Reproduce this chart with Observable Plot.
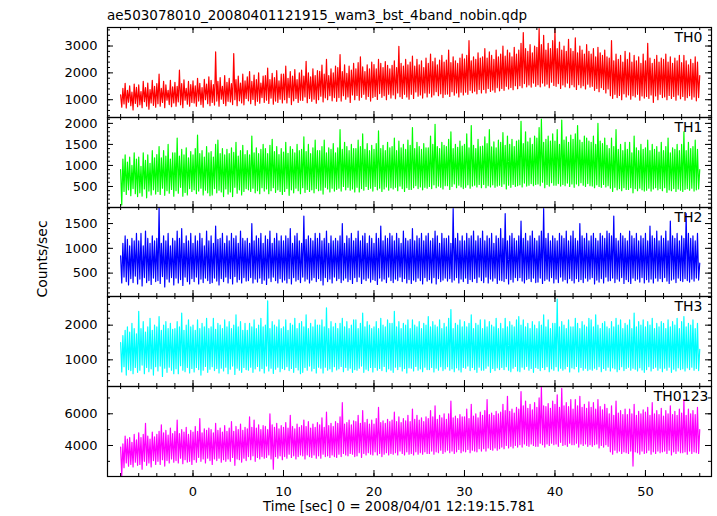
<!DOCTYPE html>
<html>
<head>
<meta charset="utf-8">
<script src="https://cdn.jsdelivr.net/npm/d3@7"></script>
<script src="https://cdn.jsdelivr.net/npm/@observablehq/plot@0.6"></script>
<style>
  html, body { margin: 0; padding: 0; background: #fff; }
  #wrap { position: relative; width: 717px; height: 516px; background: #fff; overflow: hidden; }
  #wrap svg { position: absolute; left: 0; }
</style>
</head>
<body>
<div id="wrap"></div>
<script>
// Light-curve bins: start time and bin width (seconds)
const binStart = -8, binWidth = 0.125;

// Counts/sec per bin, 16 bins per 2 s
const th0 = [
  1180, 720, 1420, 840, 1610, 690, 1350, 910, 1520, 780, 1280, 620, 1580, 860, 1460, 740,
  1550, 810, 1300, 700, 1680, 930, 1450, 760, 1620, 650, 1380, 880, 1720, 790, 1500, 720,
  1600, 850, 1950, 760, 1420, 900, 1680, 700, 1550, 980, 1350, 820, 1720, 740, 1480, 880,
  1650, 760, 1500, 920, 2100, 810, 1600, 700, 1740, 980, 1420, 830, 1680, 760, 1560, 900,
  1700, 880, 1520, 760, 1800, 950, 1610, 820, 1450, 720, 1760, 1000, 1580, 850, 1850, 780,
  1720, 900, 1560, 800, 2780, 950, 1680, 760, 1820, 1020, 1500, 860, 1900, 780, 1650, 940,
  1800, 920, 1600, 820, 2720, 1000, 1750, 780, 1880, 960, 1620, 880, 1950, 810, 1700, 1050,
  1850, 960, 2050, 850, 1680, 1010, 1920, 790, 1750, 940, 2000, 870, 1620, 1080, 1880, 900,
  1900, 980, 2180, 860, 1750, 1060, 1980, 830, 1820, 950, 2080, 900, 1700, 1020, 1950, 880,
  1950, 1000, 2250, 880, 1800, 1080, 2050, 820, 1880, 960, 2120, 1050, 1750, 900, 2000, 980,
  2100, 970, 1880, 1100, 2430, 890, 2000, 1050, 1850, 940, 2150, 1020, 1900, 870, 2080, 1000,
  2060, 1130, 2290, 920, 1950, 1070, 2500, 1000, 1900, 1150, 2150, 960, 2000, 1080, 2250, 940,
  2200, 1080, 2680, 950, 2050, 1150, 2300, 1020, 1980, 1100, 2250, 900, 2100, 1180, 2350, 1000,
  2150, 1160, 2380, 980, 2600, 1090, 2220, 1200, 2050, 1020, 2300, 1120, 2150, 950, 2400, 1080,
  2310, 1120, 2150, 1010, 2500, 1230, 2350, 1090, 2200, 1150, 2420, 1000, 2280, 1200, 2150, 1060,
  2280, 1180, 2450, 1040, 2200, 1250, 2990, 1110, 2350, 1050, 2250, 1200, 2500, 1100, 2300, 1020,
  2400, 1200, 2620, 1050, 2250, 1290, 2500, 1130, 2300, 1180, 2450, 1060, 2200, 1250, 2550, 1100,
  2350, 1240, 2700, 1100, 2420, 1180, 2550, 1300, 2300, 1150, 2480, 1220, 2650, 1080, 2400, 1200,
  2480, 1210, 2850, 1120, 2380, 1300, 2600, 1170, 2450, 1250, 2350, 1100, 2550, 1280, 2700, 1180,
  2520, 1280, 2650, 1200, 3200, 1350, 2450, 1260, 2600, 1320, 2500, 1220, 2750, 1380, 2550, 1250,
  2600, 1380, 2900, 1250, 2550, 1420, 2780, 1310, 2650, 1360, 2500, 1280, 2850, 1450, 2600, 1330,
  2700, 1420, 3000, 1350, 2620, 1500, 2850, 1400, 2750, 1460, 2600, 1370, 2950, 1520, 2700, 1410,
  2850, 1520, 3100, 1450, 3500, 1600, 2900, 1480, 2800, 1550, 3050, 1470, 2750, 1620, 3000, 1500,
  2950, 1560, 3650, 1480, 3050, 1620, 3400, 1510, 2850, 1580, 3100, 1450, 2900, 1650, 3200, 1530,
  3600, 1500, 2900, 1600, 3150, 1420, 2850, 1550, 3000, 1480, 2800, 1620, 3250, 1450, 2900, 1560,
  2800, 1480, 3300, 1380, 2750, 1560, 3000, 1450, 2850, 1520, 2700, 1400, 3050, 1580, 2800, 1470,
  2700, 1500, 2900, 1350, 2600, 1420, 2950, 1300, 2750, 1450, 2650, 1380, 2850, 1250, 2600, 1400,
  2550, 1150, 3200, 1050, 2450, 1200, 2700, 1080, 2500, 1160, 2650, 1000, 2400, 1220, 2800, 1100,
  2500, 1180, 2750, 1020, 2400, 1150, 2650, 1100, 2450, 1200, 2600, 980, 2350, 1140, 2700, 1060,
  2450, 1120, 3100, 1050, 2550, 1180, 2350, 900, 2500, 1140, 2650, 1000, 2400, 1200, 2550, 1080,
  2500, 1100, 2700, 1000, 2400, 1160, 2600, 1050, 2350, 1120, 2550, 980, 2450, 1180, 2650, 1040,
  2380, 1120, 2650, 980, 2450, 1080, 2300, 1150, 2500, 1020, 2350, 1100, 2600, 960, 2400, 1080,
  1900
];
const th1 = [
  900, 60, 1150, 380, 1250, 310, 1080, 420, 1200, 280, 1000, 450, 1300, 330, 1150, 260,
  1200, 350, 980, 270, 1300, 440, 1120, 230, 1250, 390, 1050, 300, 1350, 420, 1180, 320,
  1260, 380, 1450, 310, 1180, 460, 1350, 290, 1220, 400, 1500, 340, 1150, 430, 1300, 270,
  1300, 400, 1650, 340, 1220, 480, 1380, 270, 1250, 360, 1420, 300, 1180, 450, 1330, 380,
  1250, 420, 1400, 330, 1720, 390, 1280, 460, 1350, 300, 1200, 410, 1450, 350, 1300, 280,
  1330, 300, 1200, 450, 1500, 350, 1600, 410, 1280, 370, 1400, 260, 1250, 440, 1380, 320,
  1280, 370, 1420, 260, 1310, 480, 1550, 340, 1220, 420, 1350, 300, 1480, 380, 1260, 450,
  1350, 420, 1250, 380, 1700, 460, 1300, 350, 1420, 400, 1280, 330, 1380, 470, 1500, 390,
  1400, 440, 1280, 330, 1480, 400, 1620, 470, 1330, 360, 1450, 420, 1260, 380, 1400, 310,
  1320, 380, 1550, 450, 1290, 290, 1450, 420, 1380, 350, 1300, 460, 1500, 400, 1350, 330,
  1380, 470, 1680, 360, 1330, 430, 1500, 380, 1280, 420, 1420, 350, 1600, 450, 1350, 400,
  1350, 410, 1450, 320, 1600, 480, 1300, 440, 1420, 370, 1380, 460, 1520, 390, 1300, 430,
  1420, 460, 1850, 390, 1380, 500, 1550, 420, 1450, 480, 1350, 410, 1500, 440, 1400, 370,
  1400, 480, 1600, 370, 1450, 450, 1750, 410, 1380, 500, 1520, 430, 1350, 460, 1480, 390,
  1380, 500, 1520, 420, 1820, 460, 1400, 380, 1480, 440, 1350, 490, 1550, 410, 1420, 470,
  1450, 440, 1650, 480, 1350, 400, 1580, 510, 1420, 450, 1500, 380, 1380, 470, 1600, 430,
  1480, 430, 1900, 470, 1400, 520, 1550, 450, 1450, 490, 1380, 420, 1520, 480, 1420, 460,
  1420, 500, 1700, 450, 1500, 540, 1980, 470, 1450, 510, 1400, 480, 1550, 440, 1480, 520,
  1450, 520, 1620, 430, 1800, 500, 1400, 560, 1500, 470, 1430, 530, 1580, 490, 1460, 450,
  1500, 480, 1750, 540, 1420, 460, 1950, 510, 1480, 530, 1400, 490, 1620, 550, 1450, 470,
  1460, 550, 1680, 470, 1520, 520, 1850, 490, 1440, 540, 1560, 480, 1420, 510, 1600, 530,
  1550, 500, 1780, 560, 1480, 440, 1700, 530, 1500, 480, 1620, 550, 1450, 500, 1580, 520,
  1600, 540, 2050, 490, 1520, 580, 1800, 510, 1560, 530, 1650, 570, 1500, 520, 1700, 550,
  1650, 560, 1900, 520, 2100, 600, 1550, 470, 1620, 550, 1700, 510, 1580, 590, 1750, 530,
  1580, 530, 1850, 570, 1500, 510, 2080, 550, 1600, 520, 1680, 580, 1550, 500, 1720, 560,
  1620, 480, 1750, 560, 1950, 520, 1600, 590, 1550, 530, 1700, 500, 1650, 570, 1580, 520,
  1550, 510, 1700, 470, 1500, 540, 2000, 500, 1580, 480, 1520, 550, 1650, 490, 1480, 520,
  1400, 460, 1650, 380, 1450, 480, 1850, 420, 1380, 450, 1500, 400, 1350, 470, 1550, 430,
  1380, 430, 1550, 470, 1300, 350, 1700, 450, 1420, 400, 1350, 460, 1500, 420, 1380, 390,
  1420, 410, 1600, 460, 1350, 390, 1500, 440, 1380, 470, 1450, 420, 1320, 450, 1550, 400,
  1350, 470, 1450, 360, 1650, 420, 1300, 400, 1420, 450, 1380, 380, 1500, 440, 1350, 410,
  1500, 380, 1800, 430, 1350, 450, 1550, 410, 1400, 460, 1450, 390, 1600, 420, 1380, 440,
  900
];
const th2 = [
  850, 300, 1100, 420, 1250, 330, 1180, 260, 1050, 390, 1200, 310, 1150, 440, 1300, 280,
  1150, 380, 1300, 240, 1050, 410, 1350, 310, 1200, 350, 1100, 270, 1250, 400, 1150, 330,
  1200, 350, 1820, 290, 1100, 430, 1250, 220, 1150, 380, 1300, 320, 1050, 410, 1200, 260,
  1150, 400, 1350, 300, 1200, 370, 1400, 250, 1100, 420, 1250, 330, 1150, 280, 1300, 390,
  1100, 330, 1250, 420, 1150, 280, 1300, 380, 1200, 310, 1050, 400, 1350, 350, 1150, 290,
  1250, 310, 1100, 400, 1450, 340, 1180, 260, 1200, 390, 1300, 330, 1100, 420, 1250, 300,
  1150, 390, 1300, 280, 1200, 430, 1250, 320, 1100, 370, 1350, 300, 1200, 410, 1150, 340,
  1200, 350, 1100, 410, 1500, 300, 1150, 380, 1250, 320, 1200, 400, 1300, 290, 1100, 360,
  1250, 270, 1180, 400, 1350, 330, 1100, 420, 1200, 350, 1300, 300, 1150, 390, 1250, 320,
  1150, 360, 1250, 300, 1200, 390, 1400, 280, 1100, 410, 1250, 340, 1300, 370, 1150, 310,
  1100, 420, 1650, 340, 1180, 380, 1250, 300, 1200, 360, 1150, 410, 1300, 330, 1200, 390,
  1300, 350, 1150, 260, 1200, 410, 1350, 330, 1100, 380, 1250, 300, 1150, 420, 1200, 350,
  1150, 390, 1250, 310, 1500, 360, 1100, 400, 1250, 330, 1200, 370, 1300, 290, 1150, 410,
  1200, 330, 1350, 420, 1150, 290, 1250, 380, 1300, 350, 1100, 400, 1250, 320, 1200, 370,
  1100, 350, 1300, 270, 1200, 400, 1450, 340, 1150, 380, 1250, 310, 1200, 420, 1300, 350,
  1250, 310, 1150, 380, 1300, 350, 1200, 420, 1100, 330, 1350, 390, 1200, 300, 1150, 370,
  1180, 290, 1400, 360, 1150, 330, 1250, 400, 1200, 350, 1300, 280, 1150, 410, 1250, 340,
  1300, 370, 1150, 300, 1200, 410, 1350, 280, 1250, 390, 1100, 330, 1300, 360, 1200, 400,
  1200, 340, 1250, 390, 1100, 320, 1800, 360, 1200, 410, 1300, 300, 1150, 380, 1250, 330,
  1150, 400, 1300, 290, 1200, 370, 1250, 330, 1350, 390, 1150, 310, 1250, 420, 1200, 350,
  1350, 310, 1150, 420, 1250, 300, 1200, 380, 1300, 340, 1100, 400, 1250, 290, 1200, 360,
  1400, 350, 1200, 330, 1700, 390, 1150, 280, 1250, 370, 1300, 320, 1200, 410, 1150, 350,
  1250, 410, 1550, 340, 1200, 300, 1300, 370, 1150, 390, 1250, 330, 1350, 400, 1200, 310,
  1150, 320, 1250, 400, 1350, 290, 1800, 350, 1200, 380, 1300, 340, 1150, 410, 1250, 300,
  1200, 380, 1150, 310, 1300, 420, 1250, 340, 1200, 370, 1350, 300, 1150, 390, 1250, 350,
  1350, 300, 1200, 390, 1150, 330, 1500, 370, 1250, 310, 1200, 400, 1300, 340, 1150, 380,
  1250, 410, 1300, 280, 1200, 360, 1150, 320, 1300, 390, 1250, 300, 1200, 420, 1350, 340,
  1300, 350, 1250, 400, 1650, 310, 1200, 380, 1150, 340, 1300, 410, 1250, 290, 1200, 370,
  1150, 330, 1350, 290, 1250, 400, 1200, 350, 1300, 380, 1150, 320, 1250, 410, 1200, 300,
  1300, 370, 1150, 320, 1450, 380, 1250, 300, 1200, 400, 1350, 340, 1150, 390, 1250, 330,
  1200, 410, 1350, 340, 1150, 290, 1550, 360, 1250, 380, 1200, 310, 1300, 400, 1150, 350,
  1250, 330, 1200, 390, 1700, 350, 1300, 320, 1200, 380, 1250, 340, 1150, 400, 1300, 360,
  700
];
const th3 = [
  1500, 650, 1700, 800, 1850, 560, 1950, 720, 1800, 690, 2050, 600, 1900, 780, 1750, 640,
  2400, 700, 1900, 850, 2100, 600, 1800, 780, 1950, 660, 2200, 740, 1850, 560, 2000, 800,
  1950, 680, 2250, 820, 1850, 520, 2000, 760, 2100, 640, 1900, 790, 2050, 700, 1880, 600,
  1900, 740, 2100, 600, 1950, 830, 2350, 700, 1850, 660, 2000, 780, 2150, 620, 1950, 750,
  2000, 650, 1850, 780, 2150, 720, 1900, 560, 2050, 700, 1950, 810, 2200, 640, 1900, 730,
  1950, 800, 2200, 690, 1880, 750, 2050, 620, 2000, 760, 1900, 680, 2150, 790, 1950, 600,
  2100, 730, 1900, 820, 2000, 580, 2300, 760, 1950, 700, 2100, 640, 1850, 780, 2050, 720,
  1850, 700, 2050, 790, 1950, 640, 2150, 740, 1900, 810, 2000, 680, 2200, 750, 1950, 620,
  2000, 820, 2700, 680, 1900, 760, 2100, 610, 2000, 730, 1950, 790, 2150, 660, 1900, 750,
  1950, 720, 2150, 800, 1850, 690, 2050, 750, 2000, 640, 2200, 780, 1900, 710, 2050, 600,
  2100, 640, 1950, 780, 2300, 700, 1900, 820, 2050, 680, 1950, 750, 2150, 620, 2000, 790,
  2000, 760, 2150, 620, 1950, 790, 2500, 700, 1900, 740, 2100, 660, 1950, 800, 2050, 710,
  1900, 740, 2050, 810, 2200, 660, 1950, 780, 2100, 700, 1900, 760, 2000, 640, 2150, 720,
  2150, 700, 1900, 760, 2050, 820, 2350, 640, 1950, 730, 2100, 690, 2000, 780, 1900, 650,
  1950, 780, 2100, 700, 1900, 750, 2200, 690, 2000, 810, 1950, 660, 2150, 740, 2050, 700,
  2050, 640, 2400, 790, 1950, 720, 2100, 800, 1900, 680, 2050, 750, 2000, 620, 2150, 770,
  1900, 760, 2150, 680, 2000, 810, 1950, 700, 2100, 740, 1900, 660, 2050, 790, 2000, 720,
  2250, 720, 1950, 780, 2100, 650, 2000, 760, 1950, 700, 2150, 800, 1900, 690, 2050, 740,
  1950, 800, 2200, 700, 2450, 740, 1900, 660, 2050, 770, 2000, 710, 2150, 650, 1950, 780,
  2100, 760, 1950, 820, 2050, 690, 2300, 780, 1900, 720, 2050, 640, 2000, 790, 2150, 700,
  1900, 700, 2150, 760, 1950, 820, 2100, 640, 2000, 750, 1950, 690, 2200, 770, 1900, 720,
  2050, 780, 1900, 720, 2200, 800, 1950, 700, 2100, 660, 2000, 760, 1950, 810, 2150, 680,
  2250, 660, 2000, 790, 2150, 730, 1950, 810, 2050, 700, 1900, 750, 2100, 640, 2000, 780,
  1900, 750, 2100, 690, 2000, 780, 2300, 720, 1950, 800, 2150, 660, 1900, 740, 2050, 700,
  2050, 800, 2750, 680, 1950, 760, 2100, 700, 2000, 740, 1900, 810, 2150, 650, 1950, 770,
  1950, 740, 2200, 810, 2050, 650, 1900, 780, 2100, 700, 2000, 760, 1950, 690, 2200, 730,
  2150, 700, 1950, 760, 2300, 720, 2000, 800, 1900, 660, 2050, 750, 2100, 700, 1950, 790,
  1900, 680, 2100, 770, 1950, 740, 2200, 660, 2000, 720, 2150, 800, 1900, 690, 2050, 750,
  2000, 790, 2150, 700, 1900, 760, 2350, 730, 1950, 680, 2100, 770, 2000, 710, 2150, 640,
  1950, 720, 2100, 800, 2000, 680, 2200, 750, 1900, 790, 2050, 700, 1950, 760, 2100, 660,
  2050, 760, 1900, 700, 2150, 790, 1950, 640, 2100, 730, 2000, 680, 2200, 770, 1900, 720,
  2100, 740, 2250, 680, 1950, 770, 2050, 720, 2000, 790, 2150, 700, 1900, 750, 2050, 690,
  1300
];
const th0123 = [
  3900, 2100, 4100, 2600, 4600, 2900, 4400, 2700, 4500, 2800, 4200, 2650, 4700, 2950, 4350, 2750,
  4800, 2800, 4500, 2500, 4700, 3000, 5400, 2750, 4600, 2900, 4400, 2650, 4850, 3050, 4550, 2800,
  4700, 3000, 4900, 2800, 5300, 3100, 4800, 2700, 4950, 3050, 4650, 2900, 5100, 3150, 4750, 2950,
  4900, 3050, 5600, 2900, 4750, 3200, 5000, 2850, 4850, 3100, 5150, 2950, 4700, 3000, 4950, 2800,
  4850, 3100, 5200, 2950, 4900, 3250, 5700, 3000, 4800, 3150, 5050, 2900, 4950, 3200, 5100, 3050,
  5000, 2800, 4800, 3150, 5400, 3050, 4950, 3200, 5100, 2950, 4850, 3100, 5250, 3000, 4900, 3150,
  5100, 3000, 5500, 3250, 4900, 2750, 5200, 3150, 5000, 3100, 5350, 2950, 4950, 3200, 5150, 3050,
  5050, 3300, 5800, 3100, 5150, 3350, 5600, 3000, 5100, 3250, 5300, 3150, 5000, 3300, 5250, 3200,
  5200, 3250, 5000, 3400, 6000, 3150, 5300, 2500, 5150, 3300, 5400, 3200, 5050, 3350, 5250, 3100,
  5150, 3300, 5450, 3200, 5100, 3450, 5900, 3250, 5200, 3350, 5050, 3150, 5350, 3300, 5150, 3400,
  5250, 3350, 5600, 3150, 5200, 3400, 5500, 3300, 5100, 3250, 5350, 3400, 5150, 3200, 5450, 3350,
  5300, 3200, 5750, 3450, 5150, 3300, 6100, 3350, 5250, 3250, 5400, 3400, 5200, 3300, 5500, 3250,
  5400, 3450, 5800, 3300, 6700, 3500, 5350, 3400, 5450, 3350, 5600, 3500, 5300, 3450, 5550, 3300,
  5500, 3350, 5900, 3550, 5400, 3250, 6200, 3500, 5450, 3400, 5650, 3550, 5350, 3450, 5600, 3400,
  5350, 3600, 5700, 3400, 6400, 3500, 5450, 3300, 5550, 3450, 5400, 3550, 5650, 3400, 5500, 3500,
  5600, 3450, 6100, 3550, 5500, 3400, 5800, 3650, 5450, 3500, 5700, 3400, 5550, 3600, 5900, 3450,
  5500, 3500, 6300, 3400, 5650, 3600, 5900, 3450, 5600, 3550, 5750, 3450, 5500, 3600, 5800, 3500,
  5700, 3500, 6200, 3650, 5800, 3450, 6500, 3600, 5650, 3550, 5900, 3700, 5750, 3500, 6000, 3600,
  5650, 3700, 6000, 3550, 6800, 3650, 5750, 3500, 5850, 3600, 5700, 3750, 5950, 3550, 5800, 3650,
  5800, 3600, 6300, 3750, 5700, 3550, 6600, 3700, 5850, 3650, 6000, 3600, 5750, 3800, 6100, 3650,
  5900, 3800, 6200, 3650, 6900, 3850, 5950, 3750, 6050, 3700, 5900, 3850, 6150, 3700, 6000, 3800,
  6100, 3900, 6600, 3800, 6200, 4000, 7100, 3850, 6150, 3950, 6300, 3850, 6050, 4000, 6400, 3900,
  6300, 4050, 7400, 3900, 6500, 4100, 6800, 4000, 6350, 3950, 6600, 4100, 6250, 4000, 6700, 3950,
  6400, 3950, 7000, 4150, 7700, 4050, 6500, 3900, 6450, 4100, 6650, 4000, 6350, 4150, 6800, 4050,
  6600, 4100, 7200, 3950, 6400, 4200, 7600, 4000, 6500, 4050, 6700, 3950, 6450, 4150, 6900, 4050,
  6300, 4050, 6900, 4150, 6500, 3900, 7100, 4100, 6400, 4000, 6600, 4100, 6350, 3950, 6750, 4050,
  6400, 3950, 6700, 4050, 6300, 4100, 6900, 3850, 6450, 4000, 6250, 3900, 6600, 4050, 6350, 3950,
  6000, 3600, 6500, 3450, 5900, 3700, 6800, 3550, 6050, 3650, 6200, 3500, 5950, 3600, 6300, 3550,
  5950, 3500, 6300, 3650, 6000, 2700, 6600, 3600, 5900, 3550, 6150, 3450, 6000, 3650, 6250, 3500,
  6100, 3550, 6400, 3700, 5900, 3450, 6700, 3600, 6000, 3500, 6200, 3650, 5950, 3550, 6350, 3600,
  5850, 3650, 6200, 3500, 6000, 3700, 6500, 3400, 5950, 3600, 6150, 3500, 5900, 3650, 6300, 3550,
  6050, 3550, 6900, 3600, 5900, 3450, 6300, 3650, 6000, 3500, 6200, 3600, 5950, 3550, 6400, 3500,
  5000
];

const bandNames = ["TH0", "TH1", "TH2", "TH3", "TH0123"];
const bandColors = ["#ff0000", "#00ff00", "#0000ff", "#00ffff", "#ff00ff"];
const bandSeries = [th0, th1, th2, th3, th0123];
const yDomains = [[337, 3690], [0, 2140], [28, 1824], [231, 2827], [2044, 7722]];
const yMajorTicks = [[1000, 2000, 3000], [500, 1000, 1500, 2000], [500, 1000, 1500], [1000, 2000], [4000, 6000]];
const yMinorStep = [200, 100, 100, 200, 1000];
const xDomain = [-9.45, 57.3];
const xMajorTicks = [0, 10, 20, 30, 40, 50];
const xMinorStep = 2;
const titleText = "ae503078010_20080401121915_wam3_bst_4band_nobin.qdp";
const xLabelText = "Time [sec] 0 = 2008/04/01 12:19:15.781";
const yLabelText = "Counts/sec";

// ---- layout ----
const W = 717, H = 516, L = 107, R = 711;
const panelTops = [27, 117, 207, 296, 386], plotBottom = 476;
const MAJ = 6, MIN = 3;
const FONT = "'DejaVu Sans', 'Liberation Sans', sans-serif";
const wrap = document.getElementById("wrap");

bandSeries.forEach((vals, i) => {
  const top = panelTops[i];
  const bot = i < bandSeries.length - 1 ? panelTops[i + 1] : plotBottom;
  const h = bot - top;
  const last = i === bandSeries.length - 1;
  const mt = 20, mb = last ? 40 : 20;
  const fw = R - L;
  const data = vals.map((v, k) => ({t: binStart + k * binWidth, v}));
  const [y0, y1] = yDomains[i];
  const st = yMinorStep[i];
  const yMinor = d3.range(Math.ceil(y0 / st) * st, y1, st);
  const xMinor = d3.range(Math.ceil(xDomain[0] / xMinorStep) * xMinorStep, xDomain[1], xMinorStep);
  const tick = {stroke: "#000", strokeWidth: 1};
  const svg = Plot.plot({
    width: W,
    height: mt + h + mb,
    marginLeft: L, marginRight: W - R, marginTop: mt, marginBottom: mb,
    style: {background: "transparent", overflow: "visible", fontFamily: FONT, fontSize: "13px", color: "#000"},
    x: {domain: xDomain, axis: last ? "bottom" : null, ticks: xMajorTicks, tickFormat: d3.format("d"), tickSize: 0, tickPadding: 10, label: null},
    y: {domain: yDomains[i], ticks: yMajorTicks[i], tickFormat: d3.format("d"), tickSize: 0, tickPadding: 10, label: null},
    marks: [
      Plot.line(data, {x: "t", y: "v", stroke: bandColors[i], strokeWidth: 1.2, clip: true}),
      Plot.tickY(yMinor, {y: d => d, insetRight: fw - MIN, ...tick}),
      Plot.tickY(yMinor, {y: d => d, insetLeft: fw - MIN, ...tick}),
      Plot.tickY(yMajorTicks[i], {y: d => d, insetRight: fw - MAJ, ...tick}),
      Plot.tickY(yMajorTicks[i], {y: d => d, insetLeft: fw - MAJ, ...tick}),
      Plot.tickX(xMinor, {x: d => d, insetBottom: h - MIN, ...tick}),
      Plot.tickX(xMinor, {x: d => d, insetTop: h - MIN, ...tick}),
      Plot.tickX(xMajorTicks, {x: d => d, insetBottom: h - MAJ, ...tick}),
      Plot.tickX(xMajorTicks, {x: d => d, insetTop: h - MAJ, ...tick}),
      Plot.frame({stroke: "#000", strokeWidth: 1.2}),
      Plot.text([bandNames[i]], {
        text: d => d, frameAnchor: "top-right",
        dx: bandNames[i].length > 3 ? -3 : -9, dy: 4.5,
        fontSize: 14, fill: "#000"
      })
    ]
  });
  svg.style.top = (top - mt) + "px";
  wrap.appendChild(svg);
});

// ---- title and axis titles ----
const over = d3.create("svg")
  .attr("width", W).attr("height", H)
  .style("position", "absolute").style("top", "0px").style("left", "0px")
  .style("overflow", "visible").style("pointer-events", "none")
  .style("font-family", FONT);
over.append("text").attr("x", L).attr("y", 20).attr("font-size", 13.5).attr("fill", "#000").text(titleText);
over.append("text").attr("x", 399).attr("y", 511).attr("text-anchor", "middle")
  .attr("font-size", 13.3).attr("fill", "#000").text(xLabelText);
over.append("text").attr("transform", "translate(46.5,259) rotate(-90)").attr("text-anchor", "middle")
  .attr("font-size", 14).attr("fill", "#000").text(yLabelText);
wrap.appendChild(over.node());
</script>
</body>
</html>
